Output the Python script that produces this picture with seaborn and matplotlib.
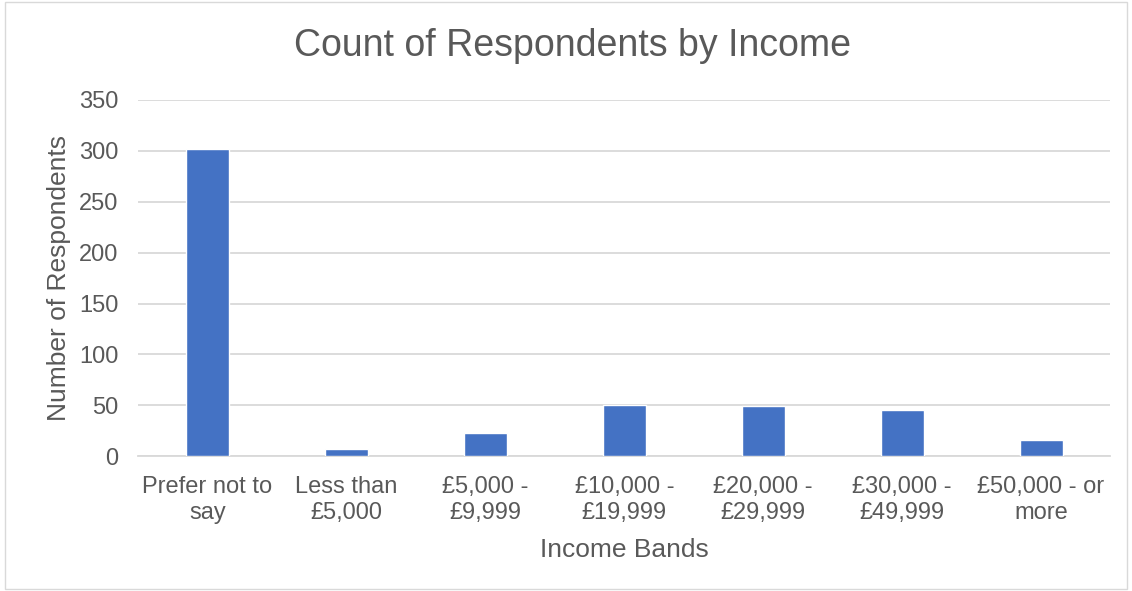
import matplotlib
matplotlib.use("Agg")
import matplotlib.pyplot as plt
import seaborn as sns
import pandas as pd

categories = ["Prefer not to\nsay", "Less than\n£5,000", "£5,000 -\n£9,999", "£10,000 -\n£19,999",
              "£20,000 -\n£29,999", "£30,000 -\n£49,999", "£50,000 - or\nmore"]
counts = [302, 7, 23, 50, 49, 45, 16]
yticks = [0, 50, 100, 150, 200, 250, 300, 350]

sns.set_theme(style="white")
plt.rcParams['font.family'] = ['Liberation Sans', 'DejaVu Sans']

df = pd.DataFrame({"band": categories, "count": counts})

fig = plt.figure(figsize=(11.32, 5.91), dpi=100)
ax = fig.add_axes([0.122, 0.228, 0.859, 0.603])
sns.barplot(data=df, x="band", y="count", color="#4472C4", width=0.31, saturation=1, ax=ax, zorder=3)

ax.set_ylim(0, 350)
ax.set_yticks(yticks)
ax.set_xlim(-0.5, len(categories) - 0.5)
ax.grid(axis="y", color="#d9d9d9", linewidth=1.3, zorder=0)
ax.grid(axis="x", visible=False)
for s in ["top", "right", "left"]:
    ax.spines[s].set_visible(False)
ax.spines["bottom"].set_color("#d9d9d9")
ax.spines["bottom"].set_linewidth(1.3)
ax.tick_params(axis="y", length=0, labelsize=17, colors="#595959", pad=14)
ax.tick_params(axis="x", length=0, labelsize=17, colors="#595959", pad=14)
for lab in ax.get_xticklabels():
    lab.set_linespacing(1.25)
ax.set_xlabel("Income Bands", fontsize=19, color="#595959", labelpad=10)
ax.set_ylabel("Number of Respondents", fontsize=19, color="#595959", labelpad=6)
fig.suptitle("Count of Respondents by Income", fontsize=27, color="#595959", y=0.952, x=0.506)

fig.patches.append(plt.Rectangle((0.004, 0.004), 0.992, 0.992, transform=fig.transFigure,
                                 fill=False, edgecolor="#d9d9d9", linewidth=1))
fig.savefig("out.png", dpi=100)
